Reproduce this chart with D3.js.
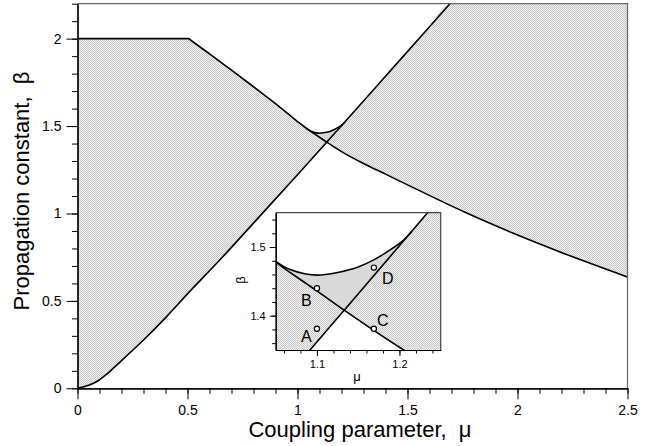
<!DOCTYPE html>
<html>
<head>
<meta charset="utf-8">
<script src="https://cdn.jsdelivr.net/npm/d3@7"></script>
<style>
  html, body { margin: 0; padding: 0; background: #fff; }
  svg { display: block; font-family: "Liberation Sans", Arial, sans-serif; }
  text { white-space: pre; }
</style>
</head>
<body>
<svg id="chart" width="648" height="446"></svg>
<script>
// ---------- data (mu, beta) ----------
const lowerBranch = [ // rising curve
  [0, 0], [0.092, 0.042], [0.13, 0.078], [0.178, 0.133], [0.3, 0.276], [0.405, 0.41],
  [0.5, 0.54], [0.64, 0.725], [0.8, 0.945], [1.0, 1.222], [1.133, 1.408],
  [1.215, 1.523], [1.4, 1.785], [1.587, 2.05], [1.693, 2.2]
];
const upperBranch = [ // flat at 2, then decreasing
  [0, 2], [0.505, 2], [0.515, 1.991], [0.6, 1.913], [0.7, 1.82], [0.8, 1.725], [0.9, 1.628], [1.0, 1.526],
  [1.05, 1.478], [1.1, 1.436], [1.133, 1.408], [1.2, 1.354], [1.3, 1.286], [1.4, 1.225],
  [1.526, 1.148], [1.754, 1.011], [1.981, 0.887], [2.208, 0.773], [2.5, 0.637]
];
const cuspBranch = [
  [1.04, 1.4876], [1.05, 1.479], [1.06, 1.4715], [1.07, 1.466], [1.085, 1.461], [1.1, 1.459],
  [1.125, 1.463], [1.15, 1.471], [1.17, 1.482], [1.19, 1.497], [1.205, 1.51], [1.215, 1.523]
];
const crossing = [1.133, 1.408];
const markers = [
  { name: "A", mu: 1.1, beta: 1.381 },
  { name: "B", mu: 1.1, beta: 1.44 },
  { name: "C", mu: 1.169, beta: 1.381 },
  { name: "D", mu: 1.169, beta: 1.47 }
];
const xMajor = [0, 0.5, 1, 1.5, 2, 2.5];
const yMajor = [0, 0.5, 1, 1.5, 2];
const insetXMajor = [1.1, 1.2];
const insetYMajor = [1.4, 1.5];
const xTitle = "Coupling parameter,  \u03bc";
const yTitle = "Propagation constant,  \u03b2";

// ---------- setup ----------
const svg = d3.select("#chart");
const defs = svg.append("defs");
const pat = defs.append("pattern").attr("id", "hatch")
  .attr("patternUnits", "userSpaceOnUse").attr("width", 2).attr("height", 2);
pat.append("rect").attr("width", 2).attr("height", 2).attr("fill", "#f2f2f2").attr("shape-rendering", "crispEdges");
pat.append("rect").attr("x", 0).attr("y", 0).attr("width", 1).attr("height", 1).attr("fill", "#c8c8c8").attr("shape-rendering", "crispEdges");
pat.append("rect").attr("x", 1).attr("y", 1).attr("width", 1).attr("height", 1).attr("fill", "#c8c8c8").attr("shape-rendering", "crispEdges");

const M = { left: 77.5, right: 627.5, top: 3.7, bottom: 388.3 };
const x = d3.scaleLinear().domain([0, 2.5]).range([M.left, M.right]);
const y = d3.scaleLinear().domain([0, 2.2]).range([M.bottom, M.top]);

const I = { left: 275.7, right: 440.7, top: 212.7, bottom: 350 };
const xi = d3.scaleLinear().domain([1.05, 1.25]).range([I.left, I.right]);
const yi = d3.scaleLinear().domain([1.35, 1.55]).range([I.bottom, I.top]);

defs.append("clipPath").attr("id", "clipMain").append("rect")
  .attr("x", M.left).attr("y", M.top).attr("width", M.right - M.left).attr("height", M.bottom - M.top);
defs.append("clipPath").attr("id", "clipInset").append("rect")
  .attr("x", I.left).attr("y", I.top).attr("width", I.right - I.left).attr("height", I.bottom - I.top);

function drawPanel(g, sx, sy, lw) {
  const line = d3.line().x(d => sx(d[0])).y(d => sy(d[1])).curve(d3.curveMonotoneX);
  const cm = crossing[0];
  const join = (...parts) => parts.map((p, i) => i === 0 ? line(p) : line(p).replace(/^M/, "L")).join("") + "Z";
  const yTop = 2.2;
  const leftPoly = join(
    lowerBranch.filter(d => d[0] <= cm),
    upperBranch.filter(d => d[0] <= cm).slice().reverse()
  );
  const rightPoly = join(
    lowerBranch.filter(d => d[0] >= cm).concat([[2.5, yTop]]),
    upperBranch.filter(d => d[0] >= cm).slice().reverse()
  );
  const cuspStart = cuspBranch[0][0], cuspEnd = cuspBranch[cuspBranch.length - 1][0];
  const greyPoly = join(
    cuspBranch,
    lowerBranch.filter(d => d[0] >= cm && d[0] <= cuspEnd).slice().reverse(),
    upperBranch.filter(d => d[0] >= cuspStart && d[0] <= cm).slice().reverse()
  );
  g.append("path").attr("d", leftPoly).attr("fill", "url(#hatch)");
  g.append("path").attr("d", rightPoly).attr("fill", "url(#hatch)");
  g.append("path").attr("d", greyPoly).attr("fill", "#d9d9d9");
  [lowerBranch, upperBranch, cuspBranch].forEach(arr => {
    g.append("path").attr("d", line(arr)).attr("fill", "none")
      .attr("stroke", "#000").attr("stroke-width", lw).attr("stroke-linejoin", "round");
  });
}

// ---------- main panel ----------
const main = svg.append("g").attr("clip-path", "url(#clipMain)");
drawPanel(main, x, y, 1.6);

svg.append("path")
  .attr("d", `M${M.left},${M.top}H${M.right}V${M.bottom}`)
  .attr("fill", "none").attr("stroke", "#666").attr("stroke-width", 1.2);

function styleAxis(g) {
  g.select(".domain").attr("stroke", "#000").attr("stroke-width", 1.2);
  g.selectAll(".tick line").attr("stroke", "#000").attr("stroke-width", 1);
}
const fontFam = "Liberation Sans, Arial, sans-serif";
const xMinor = d3.range(0, 2.5001, 0.1);
const yMinor = d3.range(0, 2.2001, 0.1);
svg.append("g").attr("transform", `translate(0,${M.bottom})`)
  .call(d3.axisBottom(x).tickValues(xMinor).tickSize(5.5).tickFormat("").tickSizeOuter(0))
  .call(styleAxis);
svg.append("g").attr("transform", `translate(0,${M.bottom})`)
  .call(d3.axisBottom(x).tickValues(xMajor).tickSize(11).tickPadding(6).tickSizeOuter(0)
    .tickFormat(d3.format("")))
  .call(styleAxis)
  .call(g => g.selectAll("text").attr("font-size", 14).attr("fill", "#000").attr("font-family", fontFam));
svg.append("g").attr("transform", `translate(${M.left},0)`)
  .call(d3.axisLeft(y).tickValues(yMinor).tickSize(5.5).tickFormat("").tickSizeOuter(0))
  .call(styleAxis);
svg.append("g").attr("transform", `translate(${M.left},0)`)
  .call(d3.axisLeft(y).tickValues(yMajor).tickSize(11).tickPadding(5).tickSizeOuter(0)
    .tickFormat(d3.format("")))
  .call(styleAxis)
  .call(g => g.selectAll("text").attr("font-size", 14).attr("fill", "#000").attr("font-family", fontFam));

svg.append("text").attr("x", 360).attr("y", 437).attr("text-anchor", "middle")
  .attr("font-size", 22).text(xTitle);
svg.append("text").attr("transform", "translate(29,191) rotate(-90)").attr("text-anchor", "middle")
  .attr("font-size", 22).text(yTitle);

// ---------- inset ----------
svg.append("rect").attr("x", I.left).attr("y", I.top)
  .attr("width", I.right - I.left).attr("height", I.bottom - I.top).attr("fill", "#fff");
const inset = svg.append("g").attr("clip-path", "url(#clipInset)");
drawPanel(inset, xi, yi, 1.6);

inset.selectAll("circle.mk").data(markers).join("circle")
  .attr("cx", d => xi(d.mu)).attr("cy", d => yi(d.beta)).attr("r", 2.6)
  .attr("fill", "#fff").attr("stroke", "#000").attr("stroke-width", 1.2);
const labelOffsets = { A: [-10.7, 7.7], B: [-10.7, 11.7], C: [9, -9], D: [14, 11] };
svg.selectAll("text.mk").data(markers).join("text")
  .attr("x", d => xi(d.mu) + labelOffsets[d.name][0])
  .attr("y", d => yi(d.beta) + labelOffsets[d.name][1] + 5.8)
  .attr("text-anchor", "middle").attr("font-size", 16).text(d => d.name);

svg.append("path")
  .attr("d", `M${I.left},${I.top}H${I.right}V${I.bottom}`)
  .attr("fill", "none").attr("stroke", "#444").attr("stroke-width", 1.2);

const ixMinor = d3.range(1.06, 1.2401, 0.02);
const iyMinor = d3.range(1.36, 1.5401, 0.02);
svg.append("g").attr("transform", `translate(0,${I.bottom})`)
  .call(d3.axisBottom(xi).tickValues(ixMinor).tickSize(3.5).tickFormat("").tickSizeOuter(0))
  .call(styleAxis);
svg.append("g").attr("transform", `translate(0,${I.bottom})`)
  .call(d3.axisBottom(xi).tickValues(insetXMajor).tickSize(6).tickPadding(4).tickSizeOuter(0)
    .tickFormat(d3.format(".1f")))
  .call(styleAxis)
  .call(g => g.selectAll("text").attr("font-size", 11).attr("fill", "#000").attr("font-family", fontFam));
svg.append("g").attr("transform", `translate(${I.left},0)`)
  .call(d3.axisLeft(yi).tickValues(iyMinor).tickSize(3.5).tickFormat("").tickSizeOuter(0))
  .call(styleAxis);
svg.append("g").attr("transform", `translate(${I.left},0)`)
  .call(d3.axisLeft(yi).tickValues(insetYMajor).tickSize(6).tickPadding(4).tickSizeOuter(0)
    .tickFormat(d3.format(".1f")))
  .call(styleAxis)
  .call(g => g.selectAll("text").attr("font-size", 11).attr("fill", "#000").attr("font-family", fontFam));
svg.append("text").attr("x", 357).attr("y", 381).attr("text-anchor", "middle")
  .attr("font-size", 13).text("\u03bc");
svg.append("text").attr("transform", "translate(245,280) rotate(-90)").attr("text-anchor", "middle")
  .attr("font-size", 13).text("\u03b2");
</script>
</body>
</html>
